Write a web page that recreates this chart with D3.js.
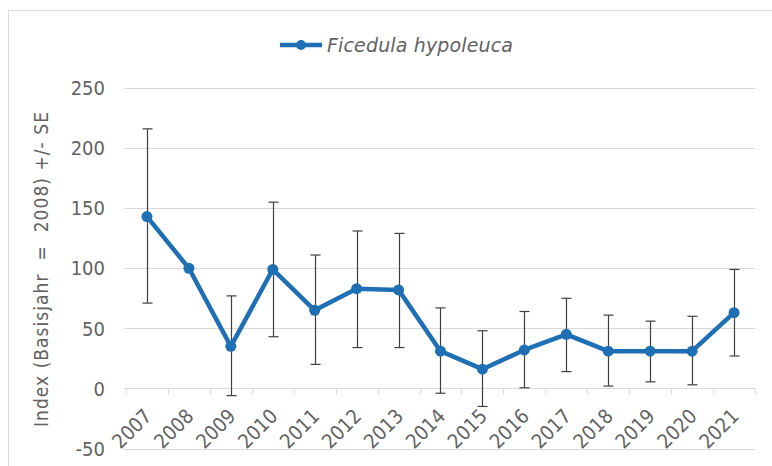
<!DOCTYPE html>
<html>
<head>
<meta charset="utf-8">
<script src="https://cdn.jsdelivr.net/npm/d3@7"></script>
<style>
  html, body { margin: 0; padding: 0; background: #ffffff; }
  svg { display: block; }
  text { font-family: "DejaVu Sans Condensed", "DejaVu Sans", sans-serif; fill: #626262; }
</style>
</head>
<body>
<svg id="chart" width="772" height="466"></svg>
<script>
// Ficedula hypoleuca population index, base year 2008 = 100, with +/- SE bounds
const years = ["2007","2008","2009","2010","2011","2012","2013","2014","2015","2016","2017","2018","2019","2020","2021"];
const index = [143, 100, 35, 99, 65, 83, 82, 31, 16, 32, 45, 31, 31, 31, 63];
const upper = [216, 100, 77, 155, 111, 131, 129, 67, 48, 64, 75, 61, 56, 60, 99];
const lower = [71, 100, -6, 43, 20, 34, 34, -4, -15, 0.5, 14, 2, 5.5, 3, 27];
const yTicks = [-50, 0, 50, 100, 150, 200, 250];
const seriesName = "Ficedula hypoleuca";
const yTitle = "Index (Basisjahr  =  2008) +/- SE";

const blue = "#1f6fb4";
const svg = d3.select("#chart");

// outer chart frame
svg.append("rect")
  .attr("x", 8.5).attr("y", 10.5)
  .attr("width", 780).attr("height", 480)
  .attr("fill", "none").attr("stroke", "#d9d9d9").attr("stroke-width", 1);

const x = d3.scaleBand().domain(years).range([126, 755]);
const y = d3.scaleLinear().domain([-50, 250]).range([448.5, 88]);

// horizontal gridlines
svg.append("g")
  .selectAll("line")
  .data(yTicks)
  .join("line")
  .attr("x1", 124).attr("x2", 755)
  .attr("y1", d => Math.round(y(d)) + 0.5)
  .attr("y2", d => Math.round(y(d)) + 0.5)
  .attr("stroke", "#d9d9d9").attr("stroke-width", 1);

// y tick labels
svg.append("g")
  .selectAll("text")
  .data(yTicks)
  .join("text")
  .attr("x", 105)
  .attr("y", d => y(d))
  .attr("dy", "0.36em")
  .attr("text-anchor", "end")
  .attr("font-size", 20)
  .text(d => d);

// category axis along the zero line, tick marks at band edges
const zeroY = Math.round(y(0)) + 0.5;
const edges = years.map(d => x(d)).concat([x.range()[1]]);
svg.append("g")
  .selectAll("line")
  .data(edges)
  .join("line")
  .attr("x1", d => Math.round(d) + 0.5).attr("x2", d => Math.round(d) + 0.5)
  .attr("y1", zeroY).attr("y2", zeroY + 6)
  .attr("stroke", "#d9d9d9").attr("stroke-width", 1);

// rotated year labels
svg.append("g")
  .selectAll("text")
  .data(years)
  .join("text")
  .attr("text-anchor", "end")
  .attr("font-size", 20)
  .attr("transform", d => `translate(${x(d) + x.bandwidth() / 2 + 6},${zeroY + 29}) rotate(-45)`)
  .text(d => d);

// y axis title
svg.append("text")
  .attr("transform", "translate(48,427) rotate(-90)")
  .attr("text-anchor", "start")
  .attr("font-size", 19)
  .attr("textLength", 315)
  .attr("lengthAdjust", "spacing")
  .style("white-space", "pre")
  .text(yTitle);

// error bars
const cx = d => x(d) + x.bandwidth() / 2;
const eb = svg.append("g").attr("stroke", "#404040").attr("stroke-width", 1.2);
years.forEach((yr, i) => {
  if (upper[i] === lower[i]) return;
  const px = Math.round(cx(yr)) + 0.5;
  eb.append("line").attr("x1", px).attr("x2", px).attr("y1", y(upper[i])).attr("y2", y(lower[i]));
  eb.append("line").attr("x1", px - 5).attr("x2", px + 5).attr("y1", y(upper[i])).attr("y2", y(upper[i]));
  eb.append("line").attr("x1", px - 5).attr("x2", px + 5).attr("y1", y(lower[i])).attr("y2", y(lower[i]));
});

// index line and markers
const pts = years.map((yr, i) => [cx(yr), y(index[i])]);
svg.append("path")
  .attr("d", d3.line()(pts))
  .attr("fill", "none")
  .attr("stroke", blue)
  .attr("stroke-width", 4.5)
  .attr("stroke-linejoin", "round");

svg.append("g")
  .selectAll("circle")
  .data(pts)
  .join("circle")
  .attr("cx", d => d[0]).attr("cy", d => d[1])
  .attr("r", 5.5)
  .attr("fill", blue);

// legend
const lg = svg.append("g");
lg.append("line")
  .attr("x1", 280).attr("x2", 322).attr("y1", 45).attr("y2", 45)
  .attr("stroke", blue).attr("stroke-width", 4.5);
lg.append("circle").attr("cx", 301).attr("cy", 45).attr("r", 5).attr("fill", blue);
lg.append("text")
  .attr("x", 327).attr("y", 45).attr("dy", "0.36em")
  .style("font-family", "'DejaVu Sans', sans-serif")
  .attr("font-size", 19)
  .attr("font-style", "italic")
  .attr("textLength", 186)
  .attr("lengthAdjust", "spacing")
  .text(seriesName);
</script>
</body>
</html>
